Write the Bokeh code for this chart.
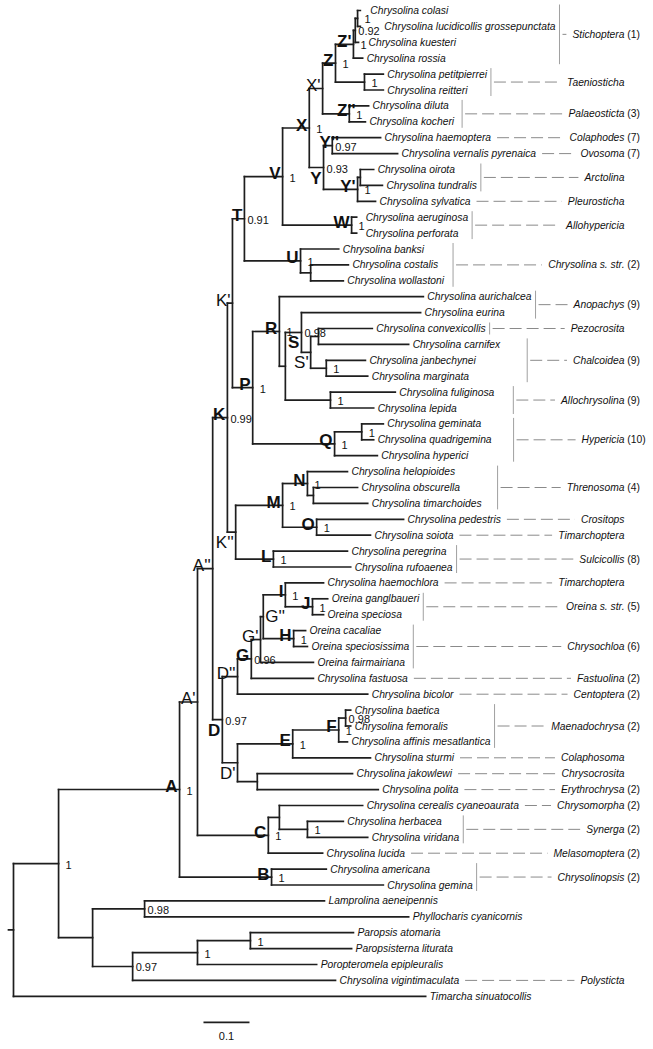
from bokeh.plotting import figure
from bokeh.models import Range1d
from bokeh.embed import file_html
from bokeh.resources import INLINE
from bokeh.core.properties import value

# ------------------------------------------------------------------ data
tip_names = [
    "Chrysolina colasi", "Chrysolina lucidicollis grossepunctata", "Chrysolina kuesteri", "Chrysolina rossia",
    "Chrysolina petitpierrei", "Chrysolina reitteri", "Chrysolina diluta", "Chrysolina kocheri",
    "Chrysolina haemoptera", "Chrysolina vernalis pyrenaica", "Chrysolina oirota", "Chrysolina tundralis",
    "Chrysolina sylvatica", "Chrysolina aeruginosa", "Chrysolina perforata", "Chrysolina banksi",
    "Chrysolina costalis", "Chrysolina wollastoni", "Chrysolina aurichalcea", "Chrysolina eurina",
    "Chrysolina convexicollis", "Chrysolina carnifex", "Chrysolina janbechynei", "Chrysolina marginata",
    "Chrysolina fuliginosa", "Chrysolina lepida", "Chrysolina geminata", "Chrysolina quadrigemina",
    "Chrysolina hyperici", "Chrysolina helopioides", "Chrysolina obscurella", "Chrysolina timarchoides",
    "Chrysolina pedestris", "Chrysolina soiota", "Chrysolina peregrina", "Chrysolina rufoaenea",
    "Chrysolina haemochlora", "Oreina ganglbaueri", "Oreina speciosa", "Oreina cacaliae",
    "Oreina speciosissima", "Oreina fairmairiana", "Chrysolina fastuosa", "Chrysolina bicolor",
    "Chrysolina baetica", "Chrysolina femoralis", "Chrysolina affinis mesatlantica", "Chrysolina sturmi",
    "Chrysolina jakowlewi", "Chrysolina polita", "Chrysolina cerealis cyaneoaurata", "Chrysolina herbacea",
    "Chrysolina viridana", "Chrysolina lucida", "Chrysolina americana", "Chrysolina gemina",
    "Lamprolina aeneipennis", "Phyllocharis cyanicornis", "Paropsis atomaria", "Paropsisterna liturata",
    "Poropteromela epipleuralis", "Chrysolina vigintimaculata", "Timarcha sinuatocollis",
]
tip_parent = [
    "n1", "n1", "n092", "Z'",
    "n2", "n2", "Z''", "Z''",
    "Y''", "Y''", "n3", "n3",
    "Y'", "W", "W", "U",
    "n4", "n4", "R", "S",
    "n5", "n5", "n6", "n6",
    "n7", "n7", "n8", "n8",
    "Q", "N", "n9", "n9",
    "O", "O", "L", "L",
    "I", "J", "J", "H",
    "H", "G'", "G", "D''",
    "n10", "n10", "F", "E",
    "n11", "n11", "n12", "n13",
    "n13", "C", "B", "B",
    "n15", "n15", "n18", "n18",
    "n17", "n16", "root",
]
tip_depth = [
    0.754, 0.754, 0.750, 0.759,
    0.804, 0.804, 0.772, 0.765,
    0.798, 0.835, 0.783, 0.802,
    0.787, 0.746, 0.746, 0.707,
    0.728, 0.717, 0.891, 0.885,
    0.780, 0.859, 0.765, 0.770,
    0.830, 0.783, 0.804, 0.783,
    0.791, 0.726, 0.748, 0.770,
    0.848, 0.776, 0.726, 0.733,
    0.674, 0.683, 0.674, 0.635,
    0.639, 0.652, 0.652, 0.770,
    0.733, 0.733, 0.726, 0.776,
    0.737, 0.793, 0.759, 0.717,
    0.770, 0.672, 0.680, 0.804,
    0.676, 0.859, 0.739, 0.735,
    0.659, 0.700, 0.896,
]

node_ids = ["root", "n14", "A", "A'", "A''", "K", "K'", "T", "V", "X", "X'", "Z", "Z'", "n092", "n1",
            "n2", "Z''", "Y", "Y''", "Y'", "n3", "W", "U", "n4", "P", "R", "n19", "S", "S'", "n5",
            "n6", "n7", "Q", "n8", "K''", "M", "N", "n9", "O", "L", "D", "D''", "G", "G'", "G''",
            "I", "J", "H", "D'", "E", "F", "n10", "n11", "C", "n12", "n13", "B", "n20", "n15", "n16",
            "n17", "n18"]
node_parent = [None, "root", "n14", "A", "A'", "A''", "K", "K'", "T", "V", "X", "X'", "Z", "Z'", "n092",
               "Z", "X'", "X", "Y", "Y", "Y'", "V", "T", "U", "K'", "P", "R", "n19", "S", "S'",
               "S'", "n19", "P", "Q", "K", "K''", "M", "N", "M", "K''", "A''", "D", "D''", "G", "G'",
               "G''", "I", "G''", "D", "D'", "E", "F", "D'", "A'", "C", "n12", "A", "n14", "n20", "n20",
               "n16", "n17"]
node_depth = [0.000, 0.098, 0.361, 0.400, 0.433, 0.465, 0.476, 0.502, 0.585, 0.643, 0.672, 0.700, 0.739, 0.743, 0.748,
              0.763, 0.730, 0.674, 0.693, 0.748, 0.754, 0.735, 0.624, 0.646, 0.520, 0.578, 0.591, 0.626, 0.646, 0.663,
              0.680, 0.689, 0.698, 0.757, 0.483, 0.585, 0.639, 0.652, 0.659, 0.565, 0.454, 0.487, 0.517, 0.537, 0.543,
              0.591, 0.650, 0.609, 0.487, 0.607, 0.707, 0.722, 0.530, 0.554, 0.578, 0.639, 0.561, 0.172, 0.285, 0.259,
              0.400, 0.515]
node_support = ["", "1", "1", "", "", "0.99", "", "0.91", "1", "1", "", "1", "1", "0.92", "1",
                "1", "1", "0.93", "0.97", "1", "", "1", "1", "", "1", "1", "", "0.98", "", "",
                "1", "1", "1", "1", "", "1", "1", "", "1", "1", "0.97", "", "0.96", "", "",
                "1", "1", "1", "", "1", "1", "0.98", "", "1", "", "1", "1", "", "0.98", "0.97",
                "1", "1"]

group_names = ["Stichoptera", "Taeniosticha", "Palaeosticta", "Colaphodes", "Ovosoma", "Arctolina",
               "Pleurosticha", "Allohypericia", "Chrysolina s. str.", "Anopachys", "Pezocrosita",
               "Chalcoidea", "Allochrysolina", "Hypericia", "Threnosoma", "Crositops", "Timarchoptera",
               "Sulcicollis", "Timarchoptera", "Oreina s. str.", "Chrysochloa", "Fastuolina", "Centoptera",
               "Maenadochrysa", "Colaphosoma", "Chrysocrosita", "Erythrochrysa", "Chrysomorpha", "Synerga",
               "Melasomoptera", "Chrysolinopsis", "Polysticta"]
group_suffix = ["(1)", "", "(3)", "(7)", "(7)", "", "", "", "(2)", "(9)", "", "(9)", "(9)", "(10)", "(4)",
                "", "", "(8)", "", "(5)", "(6)", "(2)", "(2)", "(2)", "", "", "(2)", "(2)", "(2)", "(2)",
                "(2)", ""]
group_first = [0, 4, 6, 8, 9, 10, 12, 13, 15, 18, 20, 21, 24, 26, 29, 32, 33, 34, 36, 37, 39, 42, 43, 44,
               47, 48, 49, 50, 51, 53, 54, 61]
group_last = [3, 5, 7, 8, 9, 11, 12, 14, 17, 19, 20, 23, 25, 28, 31, 32, 33, 35, 36, 38, 41, 42, 43, 46,
              47, 48, 49, 50, 52, 53, 55, 61]

scale_length = 0.1
scale_label = "0.1"

# ------------------------------------------------------------------ layout / style
W, H = 653, 1049
PX = 460.0        # pixels per unit of branch length
ROW = 15.9        # pixels per tip row
LEFT = 13.0       # root position from frame left (px)
TOP = 10.0        # first row from frame top (px)
FONT = "Liberation Sans"
TIP_SIZE = 10.3
SUP_SIZE = 11
LET_SIZE = 17
ANNOT_RIGHT_PX = 611.0   # right edge of subgenus names, px from root
SCALE_X0 = 0.413
LINE_COLOR = "#1e1e1e"

tip_nudge = {"Chrysolina colasi": 6, "Chrysolina lucidicollis grossepunctata": 20,
             "Chrysolina kuesteri": 6, "Chrysolina aeruginosa": 5, "Chrysolina perforata": 5}
bar_pad = {"Chalcoidea": 27, "Allochrysolina": 19, "Hypericia": 22, "Threnosoma": 16,
           "Chrysolina s. str.": 9, "Palaeosticta": 8}
single_bar = {"Pezocrosita"}
regular_letters = {"A'", "A''", "D'", "D''", "G'", "G''", "K'", "K''", "S'", "X'"}
letter_place = {"D": "bl", "D'": "bl", "K''": "bl", "S": "bl", "S'": "bl", "Y": "bl",
                "G''": "r", "Y''": "ac", "Z''": "ac"}

AW = {'a': 556, 'b': 556, 'c': 500, 'd': 556, 'e': 556, 'f': 278, 'g': 556, 'h': 556, 'i': 222, 'j': 222,
      'k': 500, 'l': 222, 'm': 833, 'n': 556, 'o': 556, 'p': 556, 'q': 556, 'r': 333, 's': 500, 't': 278,
      'u': 556, 'v': 500, 'w': 722, 'x': 500, 'y': 500, 'z': 500, ' ': 278, '.': 278, '(': 333, ')': 333,
      'A': 667, 'B': 667, 'C': 722, 'D': 722, 'E': 667, 'F': 611, 'G': 778, 'H': 722, 'I': 278, 'J': 500,
      'K': 667, 'L': 556, 'M': 833, 'N': 722, 'O': 778, 'P': 667, 'Q': 778, 'R': 722, 'S': 667, 'T': 611,
      'U': 722, 'V': 667, 'W': 944, 'X': 667, 'Y': 667, 'Z': 611}


def tw(s, size):
    return sum(AW.get(c, 556) for c in s) * size / 1000.0


def dx(px):
    return px / PX


def dy(px):
    return px / ROW


# ------------------------------------------------------------------ tree geometry
parent_of = dict(zip(node_ids, node_parent))
depth_of = dict(zip(node_ids, node_depth))
children_y = {n: [] for n in node_ids}
for i, par in enumerate(tip_parent):
    children_y[par].append(float(i))
node_y = {}
for n in sorted(node_ids, key=lambda k: -depth_of[k]):
    ys = children_y[n]
    node_y[n] = (min(ys) + max(ys)) / 2.0
    if parent_of[n] is not None:
        children_y[parent_of[n]].append(node_y[n])

x0, y0, x1, y1 = [], [], [], []


def seg(a, b, c, d):
    x0.append(a); y0.append(b); x1.append(c); y1.append(d)


for i, (par, d) in enumerate(zip(tip_parent, tip_depth)):
    seg(depth_of[par], i, d, i)
for n in node_ids:
    par = parent_of[n]
    if par is not None:
        seg(depth_of[par], node_y[n], depth_of[n], node_y[n])
    ys = children_y[n]
    seg(depth_of[n], min(ys), depth_of[n], max(ys))
seg(-dx(5), node_y["root"], 0.0, node_y["root"])

p = figure(width=W, height=H, output_backend="svg", toolbar_location=None,
           x_range=Range1d(-LEFT / PX, (W - LEFT) / PX),
           y_range=Range1d(start=(H - TOP) / ROW, end=-TOP / ROW),
           min_border=0, min_border_left=0, min_border_right=0, min_border_top=0, min_border_bottom=0)
p.xaxis.visible = False
p.yaxis.visible = False
p.grid.visible = False
p.outline_line_color = None
p.background_fill_color = "white"
p.border_fill_color = "white"

# ------------------------------------------------------------------ annotation (subgenera)
tip_label_x = [d + dx(4 + tip_nudge.get(n, 0)) for n, d in zip(tip_names, tip_depth)]
tip_label_end_px = [x * PX + tw(n, TIP_SIZE) for x, n in zip(tip_label_x, tip_names)]

bx, by0, by1 = [], [], []
dx0, dx1, dyy = [], [], []
gn_x, gn_y, gn_t = [], [], []
gs_x, gs_y, gs_t = [], [], []
space_px = tw(" ", TIP_SIZE)
for name, suf, f, l in zip(group_names, group_suffix, group_first, group_last):
    end_px = max(tip_label_end_px[f:l + 1])
    mid = (f + l) / 2.0
    if l > f or name in single_bar:
        bar_px = end_px + bar_pad.get(name, 4)
        bx.append(bar_px / PX); by0.append(f - dy(6)); by1.append(l + dy(6))
        start_px = bar_px + 3
    else:
        start_px = end_px + 6
    name_start = ANNOT_RIGHT_PX - tw(name, TIP_SIZE)
    dx0.append(start_px / PX); dx1.append((name_start - 6) / PX); dyy.append(mid)
    gn_x.append(ANNOT_RIGHT_PX / PX); gn_y.append(mid); gn_t.append(name)
    if suf:
        gs_x.append((ANNOT_RIGHT_PX + space_px) / PX); gs_y.append(mid); gs_t.append(suf)

p.segment(x0=dx0, y0=dyy, x1=dx1, y1=dyy, line_color="#8a8a8a", line_width=1, line_dash="12 5")
p.segment(x0=bx, y0=by0, x1=bx, y1=by1, line_color="#a0a0a0", line_width=1)

# ------------------------------------------------------------------ tree lines
p.segment(x0=x0, y0=y0, x1=x1, y1=y1, line_color=LINE_COLOR, line_width=1.7, line_cap="square")

# ------------------------------------------------------------------ texts
p.text(x=tip_label_x, y=list(range(len(tip_names))), text=tip_names,
       text_font=value(FONT), text_font_size=value(f"{TIP_SIZE}px"), text_font_style="italic",
       text_align="left", text_baseline="middle", text_color="#111111")

p.text(x=gn_x, y=gn_y, text=gn_t, text_font=value(FONT), text_font_size=value(f"{TIP_SIZE}px"),
       text_font_style="italic", text_align="right", text_baseline="middle", text_color="#111111")
p.text(x=gs_x, y=gs_y, text=gs_t, text_font=value(FONT), text_font_size=value(f"{TIP_SIZE}px"),
       text_font_style="normal", text_align="left", text_baseline="middle", text_color="#111111")

sx, sy, st = [], [], []
for n, s in zip(node_ids, node_support):
    if s:
        off = 7 if s == "1" else 3
        sx.append(depth_of[n] + dx(off)); sy.append(node_y[n] + dy(1)); st.append(s)
p.text(x=sx, y=sy, text=st, text_font=value(FONT), text_font_size=value(f"{SUP_SIZE}px"),
       text_align="left", text_baseline="middle", text_color="#111111")

groups = {}
for n in node_ids:
    if n.startswith("n") or n == "root":
        continue
    place = letter_place.get(n, "al")
    bold = n not in regular_letters
    if place == "al":
        x, y, al, bl = depth_of[n] - dx(2), node_y[n] - dy(3), "right", "alphabetic"
    elif place == "bl":
        x, y, al, bl = depth_of[n] - dx(2), node_y[n] + dy(1), "right", "top"
    elif place == "r":
        x, y, al, bl = depth_of[n] + dx(2), node_y[n], "left", "middle"
    else:
        x, y, al, bl = depth_of[n] - dx(3), node_y[n] - dy(3), "center", "alphabetic"
    key = (bold, al, bl)
    groups.setdefault(key, ([], [], []))
    groups[key][0].append(x); groups[key][1].append(y); groups[key][2].append(n)
for (bold, al, bl), (xs, ys, ts) in groups.items():
    p.text(x=xs, y=ys, text=ts, text_font=value(FONT), text_font_size=value(f"{LET_SIZE}px"),
           text_font_style="bold" if bold else "normal", text_align=al, text_baseline=bl,
           text_color="#111111")

# scale bar
n_tips = len(tip_names)
sb_y = n_tips - 1 + dy(26)
p.segment(x0=[SCALE_X0], y0=[sb_y], x1=[SCALE_X0 + scale_length], y1=[sb_y],
          line_color=LINE_COLOR, line_width=1.7)
p.text(x=[SCALE_X0 + scale_length / 2], y=[sb_y + dy(14)], text=[scale_label],
       text_font=value(FONT), text_font_size=value("11px"), text_align="center",
       text_baseline="middle", text_color="#111111")

open("out.html", "w").write(file_html(p, INLINE))
